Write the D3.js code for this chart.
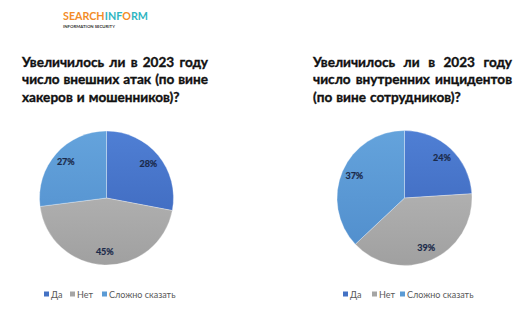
<!DOCTYPE html>
<html>
<head>
<meta charset="utf-8">
<script src="https://cdn.jsdelivr.net/npm/d3@7"></script>
<style>
html,body{margin:0;padding:0;background:#fff;}
svg{display:block;}
</style>
</head>
<body>
<svg id="chart" width="531" height="328"></svg>
<script>
const categories = ["Да", "Нет", "Сложно сказать"];
const externalValues = [28, 45, 27];
const internalValues = [24, 39, 37];
const titleExternal = ["Увеличилось ли в 2023 году", "число внешних атак (по вине", "хакеров и мошенников)?"];
const titleInternal = ["Увеличилось ли в 2023 году", "число внутренних инцидентов", "(по вине сотрудников)?"];
const logoParts = ["SEARCH", "INF", "O", "RM"];
const colors = ["#4472C4", "#A5A5A5", "#5B9BD5"];
const topColors = ["#4f7fd4", "#bdbdbd", "#64a3dc"];
const bottomColors = ["#3a63b8", "#a0a0a0", "#4f8ccb"];
const logoColors = ["#F28C28", "#2FB5C2", "#F28C28", "#2FB5C2"];

const svg = d3.select("#chart");
const defs = svg.append("defs");

// Logo: measure then fit into the target width
const logo = svg.append("g");
const tmp = logoParts.map(p => logo.append("text")
  .attr("font-family", "Lato, 'Open Sans', sans-serif").attr("font-weight", 700)
  .attr("font-size", 12).text(p));
const w0 = tmp.map(t => t.node().getComputedTextLength());
const scale = 85 / d3.sum(w0);
let lx = 63;
tmp.forEach((t, i) => {
  t.attr("font-size", 12 * scale).attr("x", lx).attr("y", 19.5).attr("fill", logoColors[i]);
  lx += w0[i] * scale;
});
logo.append("text").attr("x", 63).attr("y", 27.5)
  .attr("font-family", "Lato, sans-serif").attr("font-weight", 700)
  .attr("font-size", 4).attr("fill", "#333")
  .attr("textLength", 52).attr("lengthAdjust", "spacingAndGlyphs")
  .text("INFORMATION SECURITY");

function drawTitle(lines, x0, width, baseline0) {
  const g = svg.append("g");
  const lh = 17.5;
  lines.forEach((line, i) => {
    const y = baseline0 + i * lh;
    const words = line.split(" ");
    const justify = i < lines.length - 1;
    const nodes = words.map(w => g.append("text")
      .attr("y", y)
      .attr("font-family", "Lato, 'Open Sans', sans-serif")
      .attr("font-weight", 700).attr("font-size", 13.6).attr("fill", "#111")
      .attr("stroke", "#111").attr("stroke-width", 0.35)
      .text(w));
    const widths = nodes.map(n => n.node().getComputedTextLength());
    const total = d3.sum(widths);
    let gap = justify ? (width - total) / (words.length - 1) : 4;
    let x = x0;
    nodes.forEach((n, k) => { n.attr("x", x); x += widths[k] + gap; });
  });
}

drawTitle(titleExternal, 22, 186, 66.5);
drawTitle(titleInternal, 313, 199, 66.5);

function drawPie(values, cx, cy, r, id) {
  const g = svg.append("g").attr("transform", `translate(${cx},${cy})`);
  const pie = d3.pie().sort(null).value(d => d);
  const arc = d3.arc().innerRadius(0).outerRadius(r);
  const labelArc = d3.arc().innerRadius(r * 0.81).outerRadius(r * 0.81);
  const arcs = pie(values);
  categories.forEach((c, i) => {
    const gr = defs.append("linearGradient").attr("id", `g${id}${i}`)
      .attr("gradientUnits", "userSpaceOnUse")
      .attr("x1", 0).attr("y1", -r).attr("x2", 0).attr("y2", r);
    gr.append("stop").attr("offset", "0%").attr("stop-color", topColors[i]);
    gr.append("stop").attr("offset", "100%").attr("stop-color", bottomColors[i]);
  });
  g.selectAll("path").data(arcs).join("path")
    .attr("d", arc)
    .attr("fill", (d, i) => `url(#g${id}${i})`)
    .attr("stroke", "rgba(255,255,255,0.5)").attr("stroke-width", 0.6);
  g.selectAll("text.lbl").data(arcs).join("text").attr("class", "lbl")
    .attr("transform", d => `translate(${labelArc.centroid(d)})`)
    .attr("text-anchor", "middle").attr("dy", "0.35em")
    .attr("font-family", "Lato, 'Open Sans', sans-serif")
    .attr("font-weight", 700).attr("font-size", 9).attr("fill", "#1b2a4a")
    .attr("stroke", "#1b2a4a").attr("stroke-width", 0.2)
    .text(d => d.data + "%");
}

drawPie(externalValues, 106.5, 198, 67, "e");
drawPie(internalValues, 404.5, 198, 67.5, "i");

function drawLegend(x0, positions) {
  const g = svg.append("g");
  categories.forEach((c, i) => {
    g.append("rect").attr("x", x0 + positions[i]).attr("y", 291.5)
      .attr("width", 5).attr("height", 5).attr("fill", colors[i]);
    g.append("text").attr("x", x0 + positions[i] + 7).attr("y", 297.5)
      .attr("font-family", "Lato, 'Open Sans', sans-serif")
      .attr("font-size", 9).attr("fill", "#595959").text(c);
  });
}
drawLegend(44, [0, 26, 58]);
drawLegend(343, [0, 29, 57]);
</script>
</body>
</html>
